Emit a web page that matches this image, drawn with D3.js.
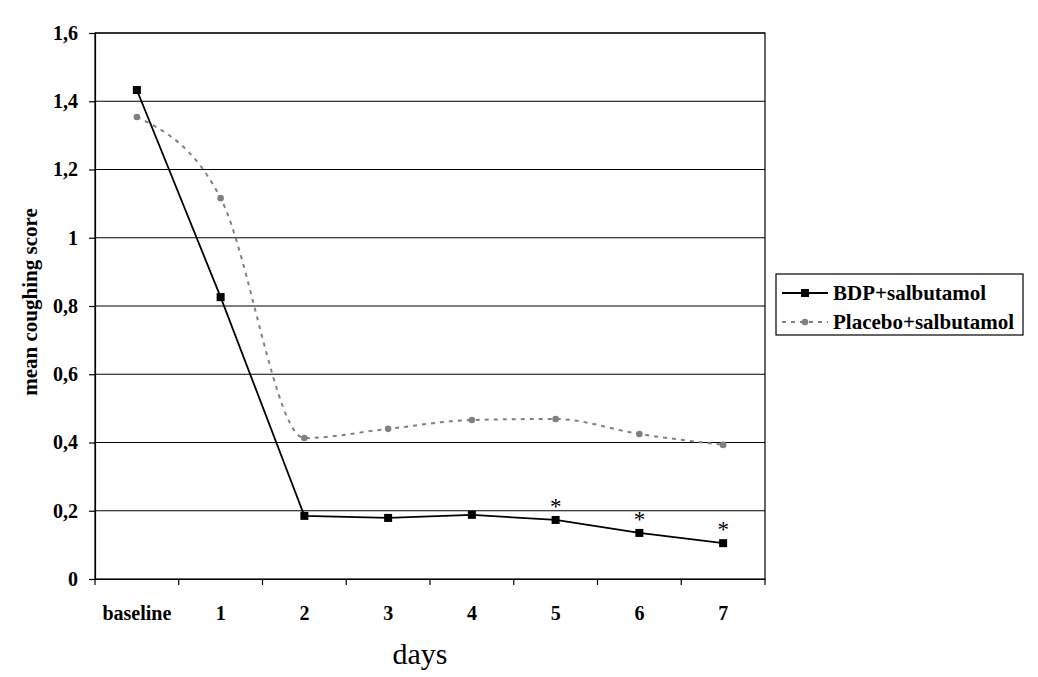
<!DOCTYPE html>
<html><head><meta charset="utf-8">
<script src="https://cdn.jsdelivr.net/npm/d3@7"></script>
<style>body{margin:0;background:#fff}svg{display:block}</style>
</head><body>
<svg id="c" width="1038" height="677"></svg>
<script>
const categories = ["baseline","1","2","3","4","5","6","7"];
const bdp = [1.433,0.826,0.185,0.179,0.188,0.173,0.135,0.105];
const placebo = [1.354,1.116,0.413,0.440,0.466,0.469,0.425,0.393];
const yTicks = [0,0.2,0.4,0.6,0.8,1,1.2,1.4,1.6];
const starDays = ["5","6","7"];
const seriesNames = ["BDP+salbutamol","Placebo+salbutamol"];

const svg = d3.select("#c");
const font = "'Liberation Serif','Times New Roman',serif";
const L=95,R=765,T=33,B=579;
const x = d3.scaleBand().domain(categories).range([L,R]);
const y = d3.scaleLinear().domain([0,1.6]).range([B,T]);
const cx = d => x(d)+x.bandwidth()/2;

// gridlines
svg.append("g").selectAll("line").data(yTicks.filter(v=>v>0)).join("line")
  .attr("x1",L).attr("x2",R).attr("y1",d=>y(d)).attr("y2",d=>y(d))
  .attr("stroke","#000").attr("stroke-width",1.2);
svg.append("rect").attr("x",L).attr("y",T).attr("width",R-L).attr("height",B-T)
  .attr("fill","none").attr("stroke","#000").attr("stroke-width",1.2);

// y axis
const fmt = v => v===0 ? "0" : String(+v.toFixed(1)).replace(".",",");
const ya = svg.append("g").attr("transform",`translate(${L},0)`)
  .call(d3.axisLeft(y).tickValues(yTicks).tickFormat(fmt).tickSize(6).tickPadding(11));
ya.selectAll("path,line").attr("stroke","#000").attr("stroke-width",1.2);
ya.selectAll("text").attr("font-family",font).attr("font-weight","bold").attr("font-size",20).attr("fill","#000");

// x axis
const xa = svg.append("g").attr("transform",`translate(0,${B})`)
  .call(d3.axisBottom(x).tickValues([]).tickSize(0));
xa.select("path").attr("stroke","#000").attr("stroke-width",1.2);
const bounds = categories.map(c=>x(c)).concat([R]);
svg.append("g").selectAll("line").data(bounds).join("line")
  .attr("x1",d=>d).attr("x2",d=>d).attr("y1",B).attr("y2",B+6)
  .attr("stroke","#000").attr("stroke-width",1.2);
svg.append("g").selectAll("text").data(categories).join("text")
  .attr("x",d=>cx(d)).attr("y",620).attr("text-anchor","middle")
  .attr("font-family",font).attr("font-weight","bold").attr("font-size",20)
  .text(d=>d);

// axis titles
svg.append("text").attr("x",420).attr("y",664).attr("text-anchor","middle")
  .attr("font-family",font).attr("font-size",30).text("days");
svg.append("text").attr("transform","translate(37,302) rotate(-90)").attr("text-anchor","middle")
  .attr("font-family",font).attr("font-weight","bold").attr("font-size",21).text("mean coughing score");

// placebo line
const lineP = d3.line().x((d,i)=>cx(categories[i])).y(d=>y(d)).curve(d3.curveMonotoneX);
svg.append("path").attr("d",lineP(placebo)).attr("fill","none")
  .attr("stroke","#808080").attr("stroke-width",2).attr("stroke-dasharray","4,5");
svg.append("g").selectAll("circle").data(placebo).join("circle")
  .attr("cx",(d,i)=>cx(categories[i])).attr("cy",d=>y(d)).attr("r",3.3).attr("fill","#808080");

// bdp line
const lineB = d3.line().x((d,i)=>cx(categories[i])).y(d=>y(d));
svg.append("path").attr("d",lineB(bdp)).attr("fill","none").attr("stroke","#000").attr("stroke-width",1.8);
svg.append("g").selectAll("rect").data(bdp).join("rect")
  .attr("x",(d,i)=>cx(categories[i])-4).attr("y",d=>y(d)-4).attr("width",8).attr("height",8).attr("fill","#000");

// stars
svg.append("g").selectAll("text").data(starDays).join("text")
  .attr("x",d=>cx(d)).attr("y",d=>y(bdp[categories.indexOf(d)])-6).attr("text-anchor","middle")
  .attr("font-family",font).attr("font-size",23).text("*");

// legend
const lg = svg.append("g");
lg.append("rect").attr("x",776).attr("y",274).attr("width",247).attr("height",61)
  .attr("fill","#fff").attr("stroke","#000").attr("stroke-width",1.2);
lg.append("line").attr("x1",782).attr("x2",828).attr("y1",293).attr("y2",293).attr("stroke","#000").attr("stroke-width",1.8);
lg.append("rect").attr("x",801).attr("y",289).attr("width",8).attr("height",8).attr("fill","#000");
lg.append("line").attr("x1",782).attr("x2",828).attr("y1",322).attr("y2",322).attr("stroke","#808080").attr("stroke-width",2).attr("stroke-dasharray","4,5");
lg.append("circle").attr("cx",805).attr("cy",322).attr("r",3.3).attr("fill","#808080");
lg.selectAll("text.l").data(seriesNames).join("text").attr("class","l")
  .attr("x",833).attr("y",(d,i)=>300+i*29)
  .attr("font-family",font).attr("font-weight","bold").attr("font-size",21).text(d=>d);
</script>
</body></html>
